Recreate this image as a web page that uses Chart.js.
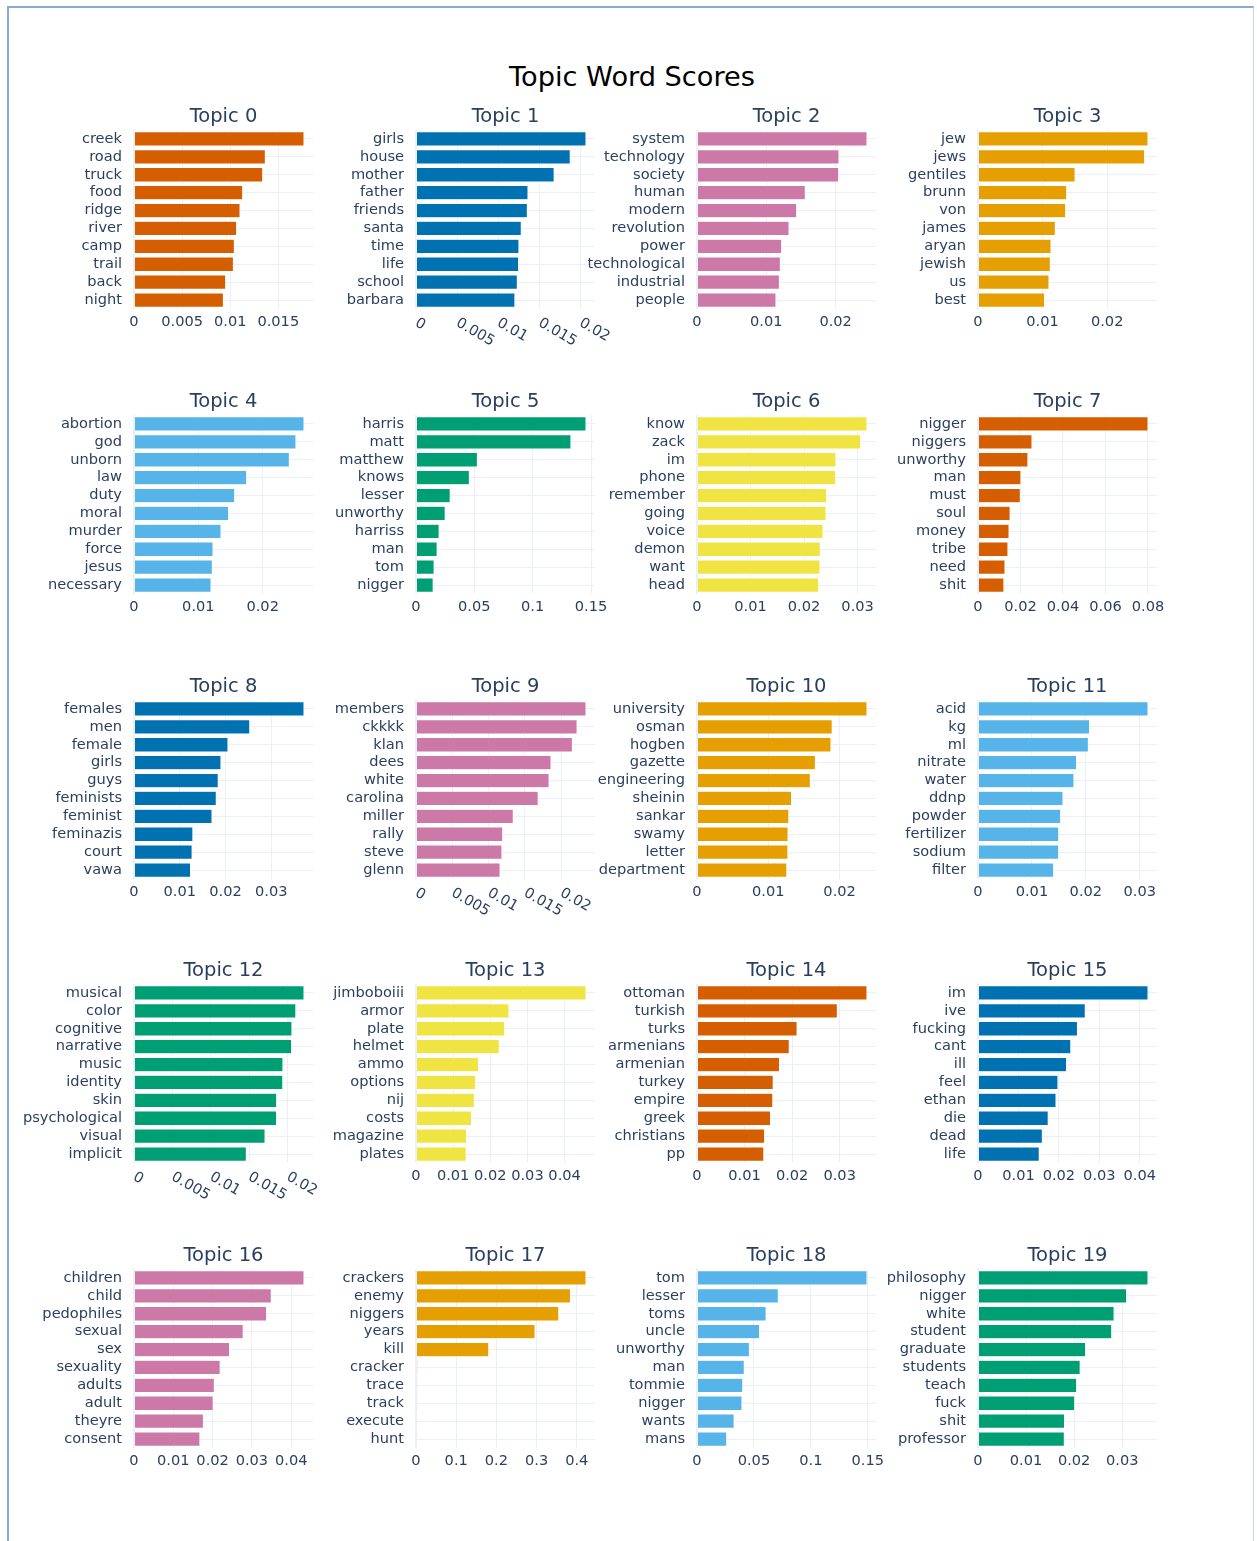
<!DOCTYPE html>
<html>
<head>
<meta charset="utf-8">
<script src="https://cdn.jsdelivr.net/npm/chart.js@4.4.0/dist/chart.umd.min.js"></script>
<style>
html,body{margin:0;padding:0;background:#ffffff;}
body{width:1257px;height:1541px;position:relative;overflow:hidden;font-family:"DejaVu Sans",sans-serif;}
#frame{position:absolute;left:7px;top:6px;width:1244px;height:1600px;border-left:2px solid #8aaad6;border-top:2px solid #8aaad6;border-right:1px solid #c9d5e5;}
#mainTitle{position:absolute;top:63px;left:632px;transform:translateX(-50%);font-size:27.2px;line-height:27.2px;color:#000000;white-space:nowrap;font-family:"DejaVu Sans",sans-serif;}
canvas{position:absolute;}
</style>
</head>
<body>
<div id="frame"></div>
<div id="mainTitle">Topic Word Scores</div>
<script>
// ---------------- data ----------------
const topicTitles = ["Topic 0","Topic 1","Topic 2","Topic 3","Topic 4","Topic 5","Topic 6","Topic 7","Topic 8","Topic 9",
  "Topic 10","Topic 11","Topic 12","Topic 13","Topic 14","Topic 15","Topic 16","Topic 17","Topic 18","Topic 19"];

const topicWords = [
  ["creek","road","truck","food","ridge","river","camp","trail","back","night"],
  ["girls","house","mother","father","friends","santa","time","life","school","barbara"],
  ["system","technology","society","human","modern","revolution","power","technological","industrial","people"],
  ["jew","jews","gentiles","brunn","von","james","aryan","jewish","us","best"],
  ["abortion","god","unborn","law","duty","moral","murder","force","jesus","necessary"],
  ["harris","matt","matthew","knows","lesser","unworthy","harriss","man","tom","nigger"],
  ["know","zack","im","phone","remember","going","voice","demon","want","head"],
  ["nigger","niggers","unworthy","man","must","soul","money","tribe","need","shit"],
  ["females","men","female","girls","guys","feminists","feminist","feminazis","court","vawa"],
  ["members","ckkkk","klan","dees","white","carolina","miller","rally","steve","glenn"],
  ["university","osman","hogben","gazette","engineering","sheinin","sankar","swamy","letter","department"],
  ["acid","kg","ml","nitrate","water","ddnp","powder","fertilizer","sodium","filter"],
  ["musical","color","cognitive","narrative","music","identity","skin","psychological","visual","implicit"],
  ["jimboboiii","armor","plate","helmet","ammo","options","nij","costs","magazine","plates"],
  ["ottoman","turkish","turks","armenians","armenian","turkey","empire","greek","christians","pp"],
  ["im","ive","fucking","cant","ill","feel","ethan","die","dead","life"],
  ["children","child","pedophiles","sexual","sex","sexuality","adults","adult","theyre","consent"],
  ["crackers","enemy","niggers","years","kill","cracker","trace","track","execute","hunt"],
  ["tom","lesser","toms","uncle","unworthy","man","tommie","nigger","wants","mans"],
  ["philosophy","nigger","white","student","graduate","students","teach","fuck","shit","professor"]
];

const topicScores = [
  [0.01767,0.01365,0.01338,0.0113,0.01102,0.01067,0.01043,0.01033,0.00953,0.00929],
  [0.02069,0.01877,0.01681,0.01363,0.01355,0.01281,0.01253,0.01249,0.01233,0.01204],
  [0.02452,0.02048,0.02043,0.01562,0.01438,0.01327,0.01221,0.01202,0.01188,0.01139],
  [0.02632,0.0258,0.01503,0.01373,0.01357,0.01197,0.0113,0.01119,0.01099,0.01031],
  [0.02642,0.02517,0.02414,0.01751,0.01565,0.01471,0.01352,0.01228,0.01217,0.01197],
  [0.1457,0.1328,0.0526,0.0457,0.0293,0.025,0.0198,0.0181,0.0155,0.0147],
  [0.03175,0.03057,0.02596,0.0259,0.02421,0.02409,0.02353,0.02303,0.02297,0.02272],
  [0.0800,0.0254,0.0235,0.0202,0.0199,0.0151,0.0146,0.0141,0.0127,0.0122],
  [0.03716,0.02531,0.02054,0.01901,0.01841,0.01798,0.01705,0.01287,0.0127,0.01236],
  [0.02342,0.02219,0.02154,0.0186,0.01833,0.01683,0.0134,0.01195,0.01184,0.01158],
  [0.02384,0.01896,0.01879,0.0166,0.01589,0.01326,0.01288,0.01277,0.01275,0.0126],
  [0.03152,0.02068,0.02046,0.01829,0.01779,0.01576,0.01533,0.01497,0.01495,0.01403],
  [0.02213,0.02107,0.02056,0.02051,0.01939,0.01937,0.01858,0.01856,0.01706,0.01462],
  [0.04576,0.02503,0.02387,0.02241,0.01686,0.01602,0.01571,0.01497,0.01361,0.01351],
  [0.03574,0.0295,0.02104,0.01939,0.01734,0.01602,0.01594,0.01545,0.01422,0.01405],
  [0.04202,0.02651,0.02458,0.02294,0.02188,0.01976,0.01928,0.01735,0.0159,0.01513],
  [0.04325,0.03492,0.03373,0.02778,0.0243,0.02192,0.02044,0.02014,0.01766,0.01677],
  [0.4229,0.3842,0.3552,0.2961,0.181,0.004,0.0035,0.0035,0.003,0.003],
  [0.1493,0.0714,0.0607,0.0549,0.046,0.0415,0.0402,0.0395,0.0326,0.0261],
  [0.03536,0.0309,0.0283,0.02782,0.02238,0.02125,0.02052,0.02011,0.018,0.01795]
];

const xTickValues = [
  [0,0.005,0.01,0.015],
  [0,0.005,0.01,0.015,0.02],
  [0,0.01,0.02],
  [0,0.01,0.02],
  [0,0.01,0.02],
  [0,0.05,0.1,0.15],
  [0,0.01,0.02,0.03],
  [0,0.02,0.04,0.06,0.08],
  [0,0.01,0.02,0.03],
  [0,0.005,0.01,0.015,0.02],
  [0,0.01,0.02],
  [0,0.01,0.02,0.03],
  [0,0.005,0.01,0.015,0.02],
  [0,0.01,0.02,0.03,0.04],
  [0,0.01,0.02,0.03],
  [0,0.01,0.02,0.03,0.04],
  [0,0.01,0.02,0.03,0.04],
  [0,0.1,0.2,0.3,0.4],
  [0,0.05,0.1,0.15],
  [0,0.01,0.02,0.03]
];

const rotatedTickTopics = [1, 9, 12];
const palette = ["#D55E00","#0072B2","#CC79A7","#E69F00","#56B4E9","#009E73","#F0E442"];

// ---------------- layout ----------------
const colLefts = [134, 416, 697, 978];
const rowTops = [130, 415, 700, 984, 1269];
const PLOT_W = 179, PLOT_H = 179, SIDE = 125, TITLE_H = 33, XAXIS_H = 45;
const FONT = '"DejaVu Sans", sans-serif';
const TEXT_COLOR = '#2a3f5f';
const GRID_COLOR = '#EBF0F8';

function fmt(v) { return String(parseFloat(Number(v).toFixed(6))); }

const rotatedTicksPlugin = {
  id: 'rotatedTicks',
  afterDraw(chart, args, opts) {
    if (!opts || !opts.enabled) return;
    const sc = chart.scales.x, ctx = chart.ctx;
    ctx.save();
    ctx.font = '14.6px ' + FONT;
    ctx.fillStyle = TEXT_COLOR;
    ctx.textAlign = 'left';
    ctx.textBaseline = 'alphabetic';
    sc.ticks.forEach(t => {
      const x = sc.getPixelForValue(t.value);
      ctx.save();
      ctx.translate(x + 3.5, chart.chartArea.bottom + 7);
      ctx.rotate(Math.PI / 6);
      ctx.fillText(fmt(t.value), 0, 10.7);
      ctx.restore();
    });
    ctx.restore();
  }
};

topicTitles.forEach((title, i) => {
  const row = Math.floor(i / 4), col = i % 4;
  const cv = document.createElement('canvas');
  const W = SIDE * 2 + PLOT_W, H = TITLE_H + PLOT_H + XAXIS_H;
  cv.width = W; cv.height = H;
  cv.style.width = W + 'px'; cv.style.height = H + 'px';
  cv.style.left = (colLefts[col] - SIDE) + 'px';
  cv.style.top = (rowTops[row] - TITLE_H) + 'px';
  document.body.appendChild(cv);

  const rotated = rotatedTickTopics.includes(i);
  const xmax = Math.max(...topicScores[i]) * 1.053;
  const ticksArr = xTickValues[i];

  new Chart(cv.getContext('2d'), {
    type: 'bar',
    data: {
      labels: topicWords[i],
      datasets: [{
        data: topicScores[i],
        backgroundColor: palette[i % palette.length],
        borderColor: '#ffffff',
        borderWidth: 0.5,
        categoryPercentage: 0.8,
        barPercentage: 1.0
      }]
    },
    options: {
      indexAxis: 'y',
      responsive: false,
      animation: false,
      devicePixelRatio: 1,
      events: [],
      layout: { padding: { left: 0, right: SIDE, top: 0, bottom: 0 } },
      plugins: {
        legend: { display: false },
        tooltip: { enabled: false },
        title: {
          display: true,
          fullSize: false,
          text: title,
          color: TEXT_COLOR,
          font: { family: FONT, size: 19.5, weight: 'normal', lineHeight: 1.2 },
          padding: { top: 8, bottom: 1.6 }
        },
        rotatedTicks: { enabled: rotated }
      },
      scales: {
        x: {
          type: 'linear',
          position: 'bottom',
          min: 0,
          max: xmax,
          afterBuildTicks: s => { s.ticks = ticksArr.map(v => ({ value: v })); },
          afterFit: s => { s.height = XAXIS_H; },
          grid: {
            color: GRID_COLOR,
            lineWidth: c => (c.tick && c.tick.value === 0) ? 2 : 1,
            drawTicks: false
          },
          border: { display: false },
          ticks: {
            display: !rotated,
            padding: 4,
            color: TEXT_COLOR,
            font: { family: FONT, size: 14.6 },
            maxRotation: 0,
            minRotation: 0,
            autoSkip: false,
            callback: v => fmt(v)
          }
        },
        y: {
          type: 'category',
          afterFit: s => { s.width = SIDE; },
          grid: { color: GRID_COLOR, offset: false, drawTicks: false },
          border: { display: false },
          ticks: {
            padding: 12,
            color: TEXT_COLOR,
            font: { family: FONT, size: 14.6 },
            autoSkip: false
          }
        }
      }
    },
    plugins: [rotatedTicksPlugin]
  });
});
</script>
</body>
</html>
